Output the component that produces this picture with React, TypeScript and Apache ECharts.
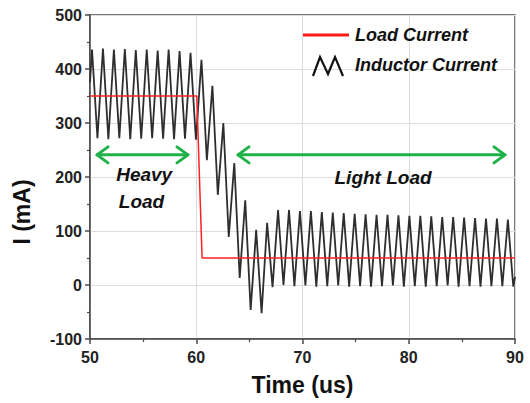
import React, { useEffect, useRef } from "react";
import * as echarts from "echarts";

// Axis ticks
const xTicks = [50, 60, 70, 80, 90];
const yTicks = [-100, 0, 100, 200, 300, 400, 500];

// Inductor current: vertices of the triangular ripple (peaks and troughs)
const indTime = [
  50.0,
  50.19, 50.7, 51.22, 51.73, 52.25, 52.76, 53.28, 53.79, 54.31, 54.82,
  55.34, 55.85, 56.37, 56.88, 57.4, 57.91, 58.43, 58.94, 59.46, 59.97,
  60.49, 61.0, 61.52, 62.03, 62.55, 63.06, 63.58, 64.09, 64.61, 65.12,
  65.64, 66.15, 66.67, 67.18, 67.7, 68.21, 68.73, 69.24, 69.76, 70.27,
  70.79, 71.3, 71.82, 72.33, 72.85, 73.36, 73.88, 74.39, 74.91, 75.42,
  75.94, 76.45, 76.97, 77.48, 78.0, 78.51, 79.03, 79.54, 80.06, 80.57,
  81.09, 81.6, 82.12, 82.63, 83.15, 83.66, 84.18, 84.69, 85.21, 85.72,
  86.24, 86.75, 87.27, 87.78, 88.3, 88.81, 89.33, 89.84,
  90.0,
];
const indValue = [
  375,
  436, 272, 438, 270, 436, 272, 437, 270, 435, 271,
  436, 272, 434, 271, 436, 270, 433, 271, 430, 269,
  417, 231, 369, 167, 300, 89, 226, 13, 157, -46,
  102, -52, 115, -4, 139, 0, 139, -2, 137, -1,
  137, -3, 135, -2, 134, -1, 133, -3, 132, -2,
  131, -3, 130, -2, 130, -1, 129, -3, 128, -2,
  128, -3, 127, -2, 126, -1, 126, -3, 125, -2,
  124, -3, 123, -2, 123, -2, 121, -3,
  15,
];

// Load current step
const loadTime = [50.0, 60.05, 60.55, 90.0];
const loadValue = [350, 350, 50, 50];

// Annotation arrows (data units)
const arrowFrom = [50.66, 63.93];
const arrowTo = [59.22, 89.06];
const arrowLevel = [241, 241];

// Annotation texts (data units)
const noteText = ["Heavy", "Load", "Light Load"];
const noteX = [55.1, 54.85, 77.58];
const noteY = [204, 154, 200];

export default function App() {
  const ref = useRef<HTMLDivElement>(null);
  useEffect(() => {
    document.body.style.margin = "0";
    const chart = echarts.init(ref.current!, null, { renderer: "svg" });
    const FONT = "'Liberation Sans', Arial, sans-serif";
    const GREEN = "#1fb24a";
    const AX = "#4a4a4a";
    chart.setOption({
      animation: false,
      backgroundColor: "#ffffff",
      grid: {
        left: 90,
        top: 15,
        width: 425,
        height: 324,
        show: true,
        borderColor: AX,
        borderWidth: 1.5,
        backgroundColor: "transparent",
      },
      xAxis: {
        type: "value",
        min: xTicks[0],
        max: xTicks[xTicks.length - 1],
        interval: 10,
        axisLine: { show: true, onZero: false, lineStyle: { color: AX, width: 1.5 } },
        axisTick: { show: true, inside: false, length: 5, lineStyle: { color: AX, width: 1.5 } },
        minorTick: { show: true, splitNumber: 2, length: 3, lineStyle: { color: AX, width: 1.2 } },
        splitLine: { show: true, lineStyle: { color: "#dddddd", width: 1 } },
        axisLabel: {
          color: "#222",
          fontFamily: FONT,
          fontWeight: "bold",
          fontSize: 16,
          margin: 10,
          showMinLabel: true,
          showMaxLabel: true,
        },
        name: "Time (us)",
        nameLocation: "middle",
        nameGap: 34,
        nameTextStyle: { color: "#111", fontFamily: FONT, fontWeight: "bold", fontSize: 23 },
      },
      yAxis: {
        type: "value",
        min: yTicks[0],
        max: yTicks[yTicks.length - 1],
        interval: 100,
        axisLine: { show: true, onZero: false, lineStyle: { color: AX, width: 1.5 } },
        axisTick: { show: true, inside: false, length: 5, lineStyle: { color: AX, width: 1.5 } },
        minorTick: { show: true, splitNumber: 2, length: 3, lineStyle: { color: AX, width: 1.2 } },
        splitLine: { show: true, lineStyle: { color: "#dddddd", width: 1 } },
        axisLabel: {
          color: "#222",
          fontFamily: FONT,
          fontWeight: "bold",
          fontSize: 16,
          margin: 8,
          showMinLabel: true,
          showMaxLabel: true,
        },
      },
      graphic: [
        {
          type: "text",
          x: 22,
          y: 212,
          z: 100,
          rotation: Math.PI / 2,
          style: {
            text: "I (mA)",
            font: "bold 23px 'Liberation Sans', Arial, sans-serif",
            fill: "#111",
            align: "center",
            verticalAlign: "middle",
          },
        },
        {
          type: "line",
          z: 100,
          shape: { x1: 303, y1: 35, x2: 349, y2: 35 },
          style: { stroke: "#ff1a1a", lineWidth: 3 },
        },
        {
          type: "text",
          x: 355,
          y: 35,
          z: 100,
          style: {
            text: "Load Current",
            font: "italic bold 18px 'Liberation Sans', Arial, sans-serif",
            fill: "#111",
            align: "left",
            verticalAlign: "middle",
          },
        },
        {
          type: "polyline",
          z: 100,
          shape: { points: [[313, 76], [320, 57], [328, 74], [335, 57], [343, 76]] },
          style: { stroke: "#111", lineWidth: 2.2, fill: "none" },
        },
        {
          type: "text",
          x: 355,
          y: 65,
          z: 100,
          style: {
            text: "Inductor Current",
            font: "italic bold 18px 'Liberation Sans', Arial, sans-serif",
            fill: "#111",
            align: "left",
            verticalAlign: "middle",
          },
        },
      ],
      series: [
        {
          type: "line",
          name: "Inductor Current",
          data: indTime.map((t, i) => [t, indValue[i]]),
          showSymbol: false,
          symbol: "none",
          lineStyle: { color: "#2e2e2e", width: 1.8 },
          z: 3,
        },
        {
          type: "line",
          name: "Load Current",
          data: loadTime.map((t, i) => [t, loadValue[i]]),
          showSymbol: false,
          symbol: "none",
          lineStyle: { color: "#ff2020", width: 1.5 },
          z: 4,
        },
        {
          type: "custom",
          coordinateSystem: "cartesian2d",
          silent: true,
          clip: false,
          z: 5,
          data: arrowFrom.map((f, i) => [f, arrowLevel[i], arrowTo[i]]),
          renderItem: (params: any, api: any) => {
            const a = api.coord([api.value(0), api.value(1)]);
            const b = api.coord([api.value(2), api.value(1)]);
            const h = 8;
            const w = 11;
            const style = {
              stroke: GREEN,
              lineWidth: 3,
              fill: "none",
              lineCap: "round",
              lineJoin: "round",
            };
            return {
              type: "group",
              children: [
                { type: "line", shape: { x1: a[0], y1: a[1], x2: b[0], y2: b[1] }, style },
                {
                  type: "polyline",
                  shape: { points: [[a[0] + w, a[1] - h], [a[0], a[1]], [a[0] + w, a[1] + h]] },
                  style,
                },
                {
                  type: "polyline",
                  shape: { points: [[b[0] - w, b[1] - h], [b[0], b[1]], [b[0] - w, b[1] + h]] },
                  style,
                },
              ],
            };
          },
        },
        {
          type: "custom",
          coordinateSystem: "cartesian2d",
          silent: true,
          clip: false,
          z: 6,
          data: noteX.map((x, i) => [x, noteY[i]]),
          renderItem: (params: any, api: any) => {
            const p = api.coord([api.value(0), api.value(1)]);
            return {
              type: "text",
              x: p[0],
              y: p[1],
              style: {
                text: noteText[params.dataIndex],
                font: "italic bold 19px 'Liberation Sans', Arial, sans-serif",
                fill: "#111",
                align: "center",
                verticalAlign: "middle",
              },
            };
          },
        },
      ],
    });
    return () => chart.dispose();
  }, []);
  return (
    <div
      ref={ref}
      style={{ position: "fixed", left: 0, top: 0, width: 530, height: 403 }}
    />
  );
}
